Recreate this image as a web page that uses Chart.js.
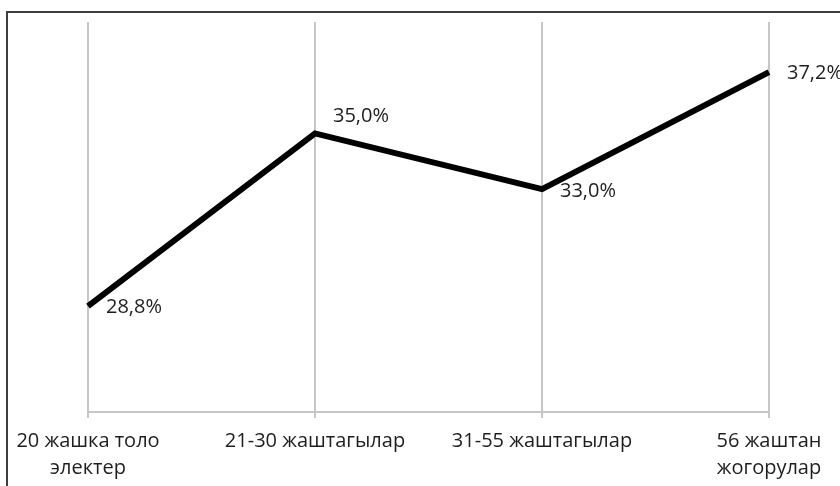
<!DOCTYPE html>
<html>
<head>
<meta charset="utf-8">
<script src="https://cdn.jsdelivr.net/npm/chart.js@4/dist/chart.umd.min.js"></script>
<style>
  html, body { margin: 0; padding: 0; background: #fff; overflow: hidden; }
  #wrap { position: relative; width: 840px; height: 486px; }
  #frame { position: absolute; left: 6px; top: 11px; width: 900px; height: 600px;
           border-left: 2px solid #3e3e3e; border-top: 2px solid #3e3e3e; pointer-events: none; }
  canvas { position: absolute; left: 0; top: 0; }
</style>
</head>
<body>
<div id="wrap">
  <canvas id="c" width="840" height="486"></canvas>
  <div id="frame"></div>
</div>
<script>
const categories = [
  ["20 жашка толо", "электер"],
  "21-30 жаштагылар",
  "31-55 жаштагылар",
  ["56 жаштан", "жогорулар"]
];
const values = [28.8, 35.0, 33.0, 37.2];
const valueLabels = ["28,8%", "35,0%", "33,0%", "37,2%"];
const yMin = 25;
const yMax = 39;

const FONT = "'Open Sans', 'Noto Sans', sans-serif";

const labelPlugin = {
  id: 'valueLabels',
  afterDatasetsDraw(chart, args, opts) {
    const ctx = chart.ctx;
    const meta = chart.getDatasetMeta(0);
    ctx.save();
    ctx.font = opts.font;
    ctx.fillStyle = opts.color;
    ctx.textAlign = 'left';
    ctx.textBaseline = 'middle';
    meta.data.forEach((pt, i) => {
      ctx.fillText(valueLabels[i], pt.x + opts.dx, pt.y + opts.dy[i]);
    });
    ctx.restore();
  }
};

new Chart(document.getElementById('c'), {
  type: 'line',
  data: {
    labels: categories,
    datasets: [{
      data: values,
      borderColor: '#000',
      borderWidth: 6,
      borderCapStyle: 'butt',
      borderJoinStyle: 'miter',
      pointRadius: 0,
      pointHoverRadius: 0,
      tension: 0,
      fill: false
    }]
  },
  options: {
    responsive: false,
    animation: false,
    events: [],
    layout: { padding: { left: 88, right: 71, top: 22, bottom: 0 } },
    plugins: {
      legend: { display: false },
      tooltip: { enabled: false },
      valueLabels: {
        font: "20px " + FONT,
        color: '#1e1e1e',
        dx: 18,
        dy: [1, -17, 2, 1]
      }
    },
    scales: {
      x: {
        offset: false,
        afterFit(scale) { scale.height = 74; },
        grid: {
          color: '#c6c6c6',
          lineWidth: 2,
          drawOnChartArea: true,
          drawTicks: true,
          tickLength: 6
        },
        border: { display: true, color: '#c6c6c6', width: 2 },
        ticks: {
          autoSkip: false,
          maxRotation: 0,
          minRotation: 0,
          padding: 10,
          color: '#1e1e1e',
          font: { family: FONT, size: 20, lineHeight: 1.35 }
        }
      },
      y: {
        display: false,
        min: yMin,
        max: yMax
      }
    }
  },
  plugins: [labelPlugin]
});
</script>
</body>
</html>
